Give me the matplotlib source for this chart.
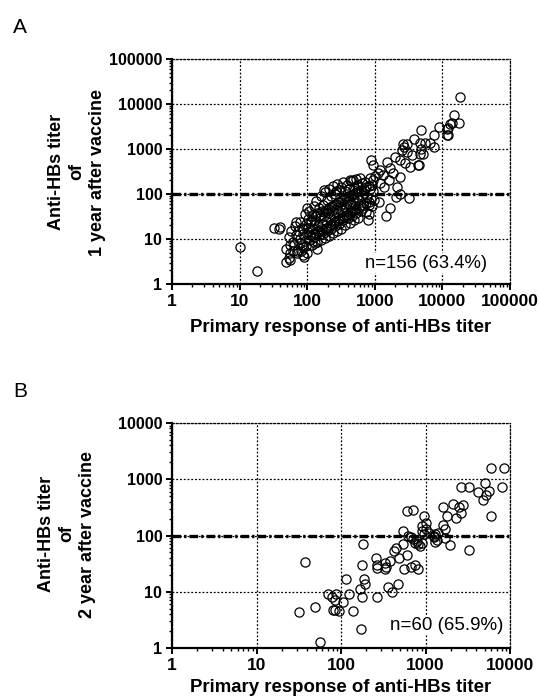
"""
Anti-HBs titer after vaccine vs primary response
two log-log scatter panels (A: 1 year, B: 2 year)
"""

import numpy as np
import matplotlib
matplotlib.use("Agg")
import matplotlib.pyplot as plt

plt.rcParams["font.family"] = ["Liberation Sans", "DejaVu Sans"]

# ==========================================
# Data
# ==========================================

# panel A : (primary response, titer 1 year after vaccine)
a_low = [
    (10, 6.5), (18, 1.9), (32, 18), (38, 17), (39, 18.5), (48, 3.1), (54, 3.7),
    (56, 3.4), (56, 7.2), (62, 5.5), (68, 24), (70, 4.8), (80, 5.3), (85, 7.2),
    (88, 4.5), (90, 4), (100, 50), (130, 8.3), (140, 6),
]

# dense band between 50 and 1000
a_cluster = [
    (48, 6), (53, 11),
    (56, 5), (61, 8.5), (57, 15),
    (63, 7.5), (69, 12), (65, 19),
    (71, 5.5), (77, 10), (73, 15), (79, 24),
    (79, 8), (86, 13), (83, 18),
    (86, 6.5), (94, 9), (88, 17), (93, 36),
    (95, 7), (102, 14), (97, 22), (104, 28),
    (101, 5), (110, 12), (104, 18), (113, 25), (107, 42),
    (111, 9.5), (120, 13), (114, 24), (118, 33),
    (118, 7.5), (129, 13), (122, 17), (131, 32), (126, 55),
    (128, 11), (139, 15), (131, 27), (142, 37), (136, 70),
    (139, 8.5), (151, 15), (143, 20), (155, 35), (147, 48),
    (149, 12), (162, 17), (153, 30), (166, 41), (158, 92),
    (160, 9.5), (174, 16), (164, 22), (178, 39), (170, 58),
    (172, 13), (187, 18), (176, 33), (191, 45), (182, 110),
    (184, 10.5), (200, 18), (189, 25), (204, 46), (195, 74),
    (197, 15), (214, 21), (203, 37), (219, 52), (209, 128),
    (212, 11.5), (230, 22), (217, 29), (235, 54), (224, 88),
    (227, 17), (246, 24), (233, 41), (252, 57), (240, 150),
    (243, 13.5), (264, 25), (250, 33), (270, 60), (257, 102),
    (259, 19), (282, 27), (266, 47), (288, 66), (275, 165),
    (278, 15), (302, 28), (286, 38), (308, 68), (295, 120),
    (297, 22), (323, 30), (305, 54), (330, 74), (315, 140),
    (319, 17), (347, 32), (328, 43), (354, 77), (338, 185),
    (343, 26), (372, 35), (352, 61), (380, 85), (364, 118),
    (367, 20), (398, 35), (376, 49), (406, 88), (389, 160),
    (396, 29), (430, 40), (406, 70), (440, 95), (420, 132),
    (424, 23), (460, 41), (436, 56), (470, 100), (450, 195),
    (457, 32), (497, 44), (470, 77), (508, 104), (485, 145),
    (490, 27), (533, 46), (503, 64), (545, 112), (520, 215),
    (528, 37), (574, 50), (543, 86), (587, 114), (561, 160),
    (571, 30), (621, 54), (587, 73), (635, 124),
    (619, 42), (672, 57), (636, 96), (688, 128), (656, 180),
    (676, 48), (735, 63), (695, 106), (750, 142),
    (743, 40), (807, 66), (763, 87), (825, 148),
    (819, 58), (890, 77), (842, 126), (910, 158),
    (905, 53), (983, 72), (930, 116),
]

a_tail = [
    (18000, 14500), (15100, 5800), (17400, 3700), (12900, 3600), (14000, 3800),
    (12000, 3000), (11500, 2800), (12300, 2050), (11700, 2000), (8900, 3100),
    (7600, 2100), (4900, 2600), (4700, 1350), (5500, 1350), (6600, 1350),
    (7600, 1120), (2630, 1290), (2500, 950), (2950, 870), (3550, 740),
    (4700, 780), (4900, 980), (2000, 680), (2350, 575), (2800, 500),
    (3300, 390), (4400, 440), (890, 575), (950, 440), (1200, 340),
    (1510, 525), (1660, 370), (1860, 290), (2350, 240), (430, 205),
    (600, 225), (720, 185), (950, 205), (1200, 175), (1350, 145),
    (2150, 140), (2350, 98), (2040, 85), (1700, 48), (1450, 32),
    (1170, 65), (780, 27), (810, 36), (470, 200), (550, 120),
    (270, 117), (178, 120), (3200, 83), (4500, 430), (1000, 250),
    (1300, 260), (1600, 200), (1100, 300), (850, 230), (3000, 1260),
    (5100, 780), (2700, 1100), (3800, 1700),
]

# panel B : (primary response, titer 2 year after vaccine)
b_points = [
    (6000, 1600), (8400, 1600), (8000, 730), (5000, 860), (5700, 610),
    (5200, 520), (4800, 420), (4200, 590), (3300, 720), (2650, 720),
    (6000, 220), (2100, 360), (2800, 355), (2500, 316), (2650, 250),
    (2300, 204), (1600, 316), (1780, 219), (1620, 155), (1700, 130),
    (1300, 105), (1400, 110), (1250, 95), (970, 219), (910, 145),
    (1000, 170), (900, 120), (950, 105), (600, 268), (710, 288),
    (540, 121), (620, 100), (680, 95), (720, 85), (760, 75),
    (820, 70), (870, 65), (800, 80), (900, 75), (1250, 100),
    (1350, 82), (1300, 78), (1700, 90), (1950, 68), (3300, 55),
    (540, 70), (480, 40), (420, 52), (560, 25), (680, 28),
    (820, 25), (260, 40), (265, 30), (265, 26), (330, 32),
    (340, 28), (335, 25), (380, 35), (360, 12), (400, 10),
    (470, 14), (270, 8), (180, 70), (175, 30), (185, 17),
    (190, 14), (170, 11), (175, 8), (125, 9), (115, 17),
    (105, 6.5), (87, 9), (85, 7), (80, 4.8), (85, 4.7),
    (95, 4.6), (70, 9), (78, 8), (140, 4.5), (174, 2.2),
    (49, 5.4), (32, 4.4), (56, 1.3), (38, 34), (1000, 130),
    (1100, 110), (450, 60), (600, 45), (750, 30),
]

a_ticks = [1, 10, 100, 1000, 10000, 100000]
b_ticks = [1, 10, 100, 1000, 10000]
cutoff = 100

a_note = "n=156 (63.4%)"
b_note = "n=60 (65.9%)"
x_title = "Primary response of anti-HBs titer"
a_ytitle = "Anti-HBs titer\nof\n1 year after vaccine"
b_ytitle = "Anti-HBs titer\nof\n2 year after vaccine"

W, H = 539, 698


def style_panel(ax, ticks):
    ax.set_xscale("log")
    ax.set_yscale("log")
    ax.set_xlim(ticks[0], ticks[-1])
    ax.set_ylim(ticks[0], ticks[-1])

    ax.set_xticks(ticks)
    ax.set_yticks(ticks)
    ax.set_xticklabels([str(t) for t in ticks], fontsize=12.5, fontweight="bold")
    ax.set_yticklabels([str(t) for t in ticks], fontsize=11.5, fontweight="bold")

    ax.grid(True, which="major", color="black", linestyle=(0, (1.5, 1.5)), linewidth=0.9)
    ax.set_axisbelow(True)

    for side in ["left", "bottom"]:
        ax.spines[side].set_linewidth(1.6)
    for side in ["top", "right"]:
        ax.spines[side].set_linestyle((0, (1.5, 1.5)))
        ax.spines[side].set_linewidth(0.9)

    ax.tick_params(which="major", direction="out", length=4, width=1.4, pad=3)
    ax.tick_params(which="minor", direction="out", length=2.5, width=1.0)
    ax.tick_params(top=False, right=False, which="both")

    ax.axhline(cutoff, color="black", linewidth=2.4, linestyle=(0, (2.6, 0.9, 0.7, 0.9)), zorder=3)


def draw_points(ax, pts):
    pts = np.array(pts, dtype=float)
    ax.plot(pts[:, 0], pts[:, 1], linestyle="none", marker="o", markersize=6.6,
            markerfacecolor="none", markeredgecolor="black", markeredgewidth=0.9, zorder=4)


fig = plt.figure(figsize=(W / 100, H / 100), dpi=100)
note_box = dict(facecolor="white", edgecolor="none", pad=1)

# ==========================================
# Panel A
# ==========================================

ax_a = fig.add_axes([172 / W, (H - 284) / H, 338 / W, 225 / H])
style_panel(ax_a, a_ticks)
draw_points(ax_a, a_low + a_cluster + a_tail)
fig.text(487 / W, (H - 263) / H, a_note, fontsize=13.3, ha="right", va="center", bbox=note_box)
fig.text(77 / W, (H - 172) / H, a_ytitle, fontsize=13, fontweight="bold", rotation=90,
         ha="center", va="center", multialignment="center", linespacing=1.25)
fig.text(341 / W, (H - 332) / H, x_title, fontsize=13.4, fontweight="bold",
         ha="center", va="baseline")
fig.text(13 / W, (H - 33) / H, "A", fontsize=15, ha="left", va="baseline")

# ==========================================
# Panel B
# ==========================================

ax_b = fig.add_axes([172 / W, (H - 648) / H, 338 / W, 225 / H])
style_panel(ax_b, b_ticks)
draw_points(ax_b, b_points)
fig.text(503 / W, (H - 625) / H, b_note, fontsize=13.5, ha="right", va="center", bbox=note_box)
fig.text(67 / W, (H - 534) / H, b_ytitle, fontsize=13, fontweight="bold", rotation=90,
         ha="center", va="center", multialignment="center", linespacing=1.25)
fig.text(341 / W, (H - 692) / H, x_title, fontsize=13.4, fontweight="bold",
         ha="center", va="baseline")
fig.text(13 / W, (H - 397) / H, "B", fontsize=15, ha="left", va="baseline")

plt.savefig("out.png", dpi=100)
